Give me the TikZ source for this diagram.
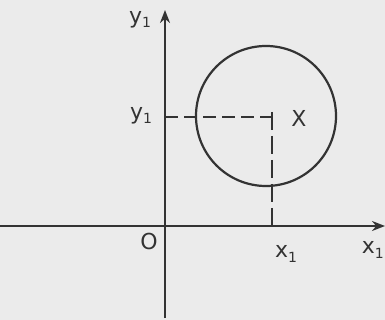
\documentclass[tikz,border=0pt]{standalone}
\usepackage{fontspec}
\setmainfont{DejaVu Sans}
\usetikzlibrary{arrows.meta,positioning}
\newcommand{\low}[1]{\raisebox{-0.35ex}{\fontsize{14}{16}\selectfont #1}}
\begin{document}
\begin{tikzpicture}[x=1pt, y=-1pt, >={Stealth[length=13pt, width=10pt]},
  every node/.style={font=\fontsize{22}{26}\selectfont, inner sep=1pt, text=black!80},
  axis/.style={->, draw=black!80, line width=2.2pt},
  guide/.style={draw=black!80, line width=2.2pt, dash pattern=on 13pt off 6pt},
  ring/.style={draw=black!80, line width=2.2pt}]
  \fill[black!8] (0,0) rectangle (385,320);
  \useasboundingbox (0,0) rectangle (385,320);
  % axes
  \coordinate (xstart) at (0,226);
  \coordinate (xend) at (385,226);
  \coordinate (ystart) at (165,318);
  \coordinate (yend) at (165,10);
  \draw[axis] (xstart) -- (xend);
  \draw[axis] (ystart) -- (yend);
  % circle and point
  \coordinate (c) at (266,116);
  \coordinate (P) at (272,117);
  \draw[ring] (c) circle[radius=70];
  \draw[guide] (yend |- P) -- (P);
  \draw[guide, line width=1.6pt, dash pattern=on 18pt off 6pt] ([yshift=5pt]P) -- (P |- xstart);
  % labels
  \node (o) at (149,241) {O};
  \node (X) at (299,118) {X};
  \node (yval) at (141,116) {y\low{1}};
  \node (xval) at (286,254) {x\low{1}};
  \node (yname) at (140,20) {y\low{1}};
  \node[anchor=east] (xname) at (385,250) {x\low{1}};
\end{tikzpicture}
\end{document}
